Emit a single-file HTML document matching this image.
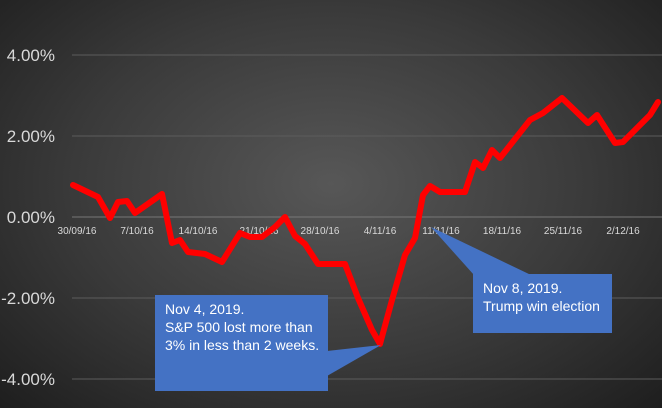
<!DOCTYPE html>
<html><head><style>
html,body{margin:0;padding:0}
body{width:662px;height:408px;overflow:hidden;background:radial-gradient(ellipse at 50% 45%,#575757 0%,#3a3a3a 55%,#1e1e1e 100%);font-family:"Liberation Sans",sans-serif}
</style></head><body>
<svg width="662" height="408" xmlns="http://www.w3.org/2000/svg" style="position:absolute;left:0;top:0">
<g stroke="#5c5c5c" stroke-width="1">
<line x1="72" y1="55" x2="662" y2="55"/>
<line x1="72" y1="136" x2="662" y2="136"/>
<line x1="72" y1="298" x2="662" y2="298"/>
<line x1="72" y1="379" x2="662" y2="379"/>
<line x1="72" y1="217" x2="662" y2="217" stroke="#777"/>
</g>
<g fill="#d9d9d9" font-size="17" text-anchor="end">
<text x="55" y="61">4.00%</text>
<text x="55" y="142">2.00%</text>
<text x="55" y="223">0.00%</text>
<text x="55" y="304">-2.00%</text>
<text x="55" y="385">-4.00%</text>
</g>
<g fill="#d9d9d9" font-size="10" text-anchor="middle">
<text x="77" y="234">30/09/16</text>
<text x="137" y="234">7/10/16</text>
<text x="198" y="234">14/10/16</text>
<text x="259" y="234">21/10/16</text>
<text x="320" y="234">28/10/16</text>
<text x="380" y="234">4/11/16</text>
<text x="441" y="234">11/11/16</text>
<text x="502" y="234">18/11/16</text>
<text x="563" y="234">25/11/16</text>
<text x="623" y="234">2/12/16</text>
</g>
<polyline fill="none" stroke="#ff0000" stroke-width="6" stroke-linejoin="round" stroke-linecap="round" points="73,185 98,197 110,218 118,202 127,201 135,213 162,194 172,243 180,240 188,252 205,254 222,262 240,233 250,237 262,237 275,227 285,217 295,236 305,244 318,264 345,264 358,298 372,330 380,344 392,300 405,255 415,238 423,195 430,186 440,192 465,192 475,162 483,168 492,150 500,158 530,120 543,113 562,98 588,123 597,115 615,143 623,142 650,115 658,102"/>
<polygon fill="#4472c4" points="327,351 327,376 381,345"/>
<rect x="155" y="295" width="173" height="96" fill="#4472c4"/>
<polygon fill="#4472c4" points="474,275 531,275 431,227"/>
<rect x="473" y="274" width="139" height="59" fill="#4472c4"/>
<g fill="#fff" font-size="14">
<text x="165" y="314">Nov 4, 2019.</text>
<text x="165" y="332">S&amp;P 500 lost more than</text>
<text x="165" y="350">3% in less than 2 weeks.</text>
<text x="483" y="293">Nov 8, 2019.</text>
<text x="483" y="311">Trump  win election</text>
</g>
</svg>
</body></html>
